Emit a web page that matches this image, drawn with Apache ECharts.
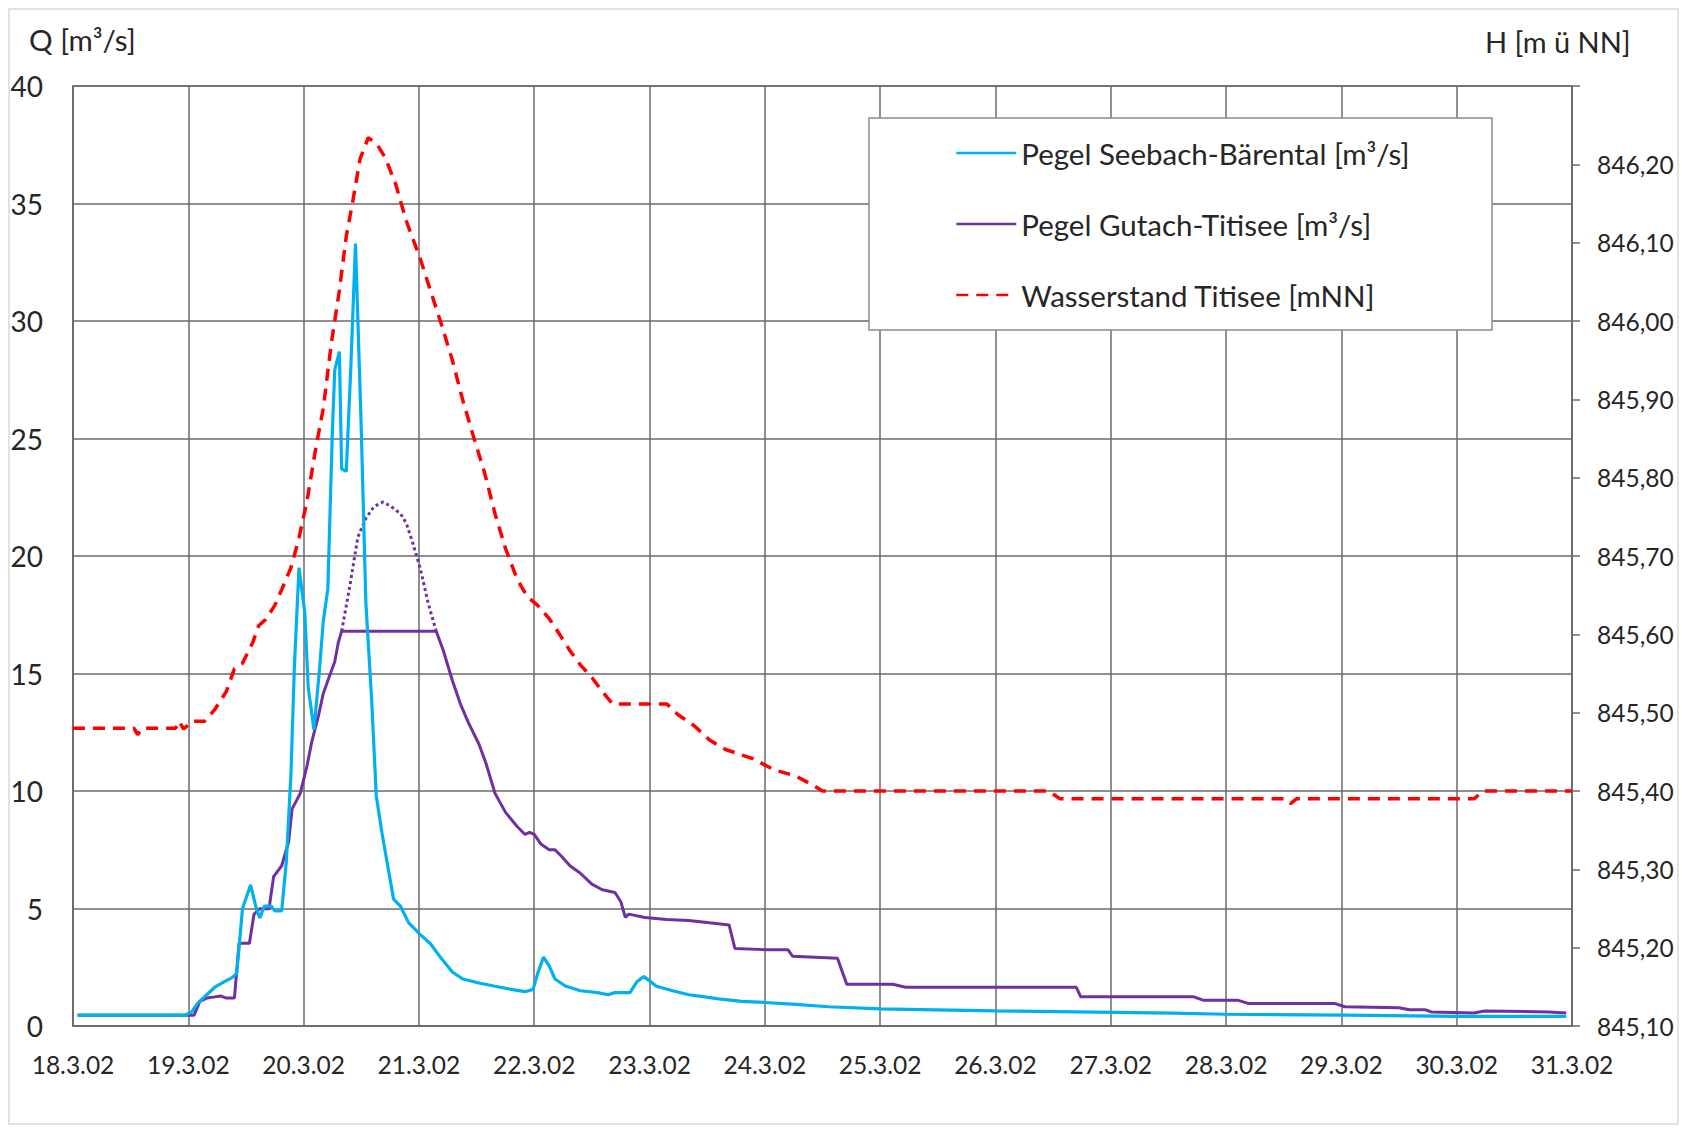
<!DOCTYPE html>
<html>
<head>
<meta charset="UTF-8" />
<title>Pegel und Wasserstand Titisee März 2002</title>
<script src="https://cdn.jsdelivr.net/npm/echarts@6/dist/echarts.min.js"></script>
<style>
  html, body { margin: 0; padding: 0; background: #fff; }
  #chart { width: 1687px; height: 1131px; }
</style>
</head>
<body>
<div id="chart"></div>
<script>
// Zeit in Tagen ab 18.3.02 00:00
const dayLabels = ['18.3.02','19.3.02','20.3.02','21.3.02','22.3.02','23.3.02','24.3.02',
  '25.3.02','26.3.02','27.3.02','28.3.02','29.3.02','30.3.02','31.3.02'];

// Pegel Seebach-Bärental [m³/s]
const seebachT = [0.04,0.97,1.03,1.08,1.16,1.23,1.31,1.38,1.42,1.47,1.54,1.59,1.62,1.66,1.72,1.75,1.81,
  1.85,1.89,1.92,1.96,2.01,2.04,2.09,2.14,2.17,2.21,2.25,2.27,2.31,2.33,2.37,2.41,2.45,2.50,2.54,2.59,
  2.63,2.68,2.73,2.78,2.84,2.91,3.01,3.10,3.19,3.29,3.38,3.52,3.66,3.80,3.92,3.99,4.03,4.08,4.13,4.18,
  4.27,4.40,4.55,4.64,4.70,4.83,4.89,4.95,5.00,5.06,5.20,5.34,5.48,5.62,5.80,6.00,6.27,6.55,7.00,7.48,
  8.00,8.70,9.54,10.00,11.03,12.00,12.95];
const seebachQ = [0.46,0.46,0.6,0.96,1.33,1.65,1.88,2.06,2.24,5.0,6.0,5.0,4.6,5.1,5.1,4.9,4.9,
  7.0,10.7,15.3,19.5,17.6,14.4,12.6,15.3,17.2,18.6,25.4,27.9,28.7,23.7,23.6,28.1,33.3,25.4,18.0,13.9,
  9.8,8.2,6.8,5.4,5.1,4.4,3.9,3.5,2.9,2.3,2.0,1.83,1.69,1.56,1.46,1.56,2.24,2.93,2.56,2.0,
  1.7,1.5,1.42,1.33,1.42,1.42,1.88,2.1,1.92,1.69,1.5,1.33,1.24,1.14,1.05,1.0,0.92,0.82,0.73,0.69,
  0.64,0.6,0.55,0.5,0.46,0.41,0.41];

// Pegel Gutach-Titisee [m³/s]
const gutachT = [0.04,1.05,1.10,1.16,1.23,1.28,1.33,1.40,1.44,1.53,1.57,1.62,1.70,1.74,1.81,1.87,1.90,
  1.97,2.03,2.07,2.13,2.17,2.22,2.27,2.30,2.33,3.15,3.21,3.29,3.36,3.43,3.52,3.58,3.66,3.75,3.85,3.92,
  3.96,4.00,4.06,4.13,4.18,4.24,4.31,4.40,4.50,4.59,4.70,4.75,4.79,4.82,4.96,5.15,5.34,5.52,5.69,5.74,
  5.99,6.20,6.24,6.63,6.71,7.11,7.22,8.70,8.74,9.72,9.80,10.10,10.19,10.94,11.03,11.50,11.59,11.73,
  11.78,12.15,12.24,12.80,12.95];
const gutachQ = [0.46,0.46,1.05,1.19,1.24,1.28,1.19,1.19,3.52,3.52,4.76,4.99,4.99,6.36,6.82,7.83,9.24,
  9.89,11.08,12.08,13.23,14.14,14.83,15.5,16.3,16.8,16.8,16.0,14.7,13.7,12.9,12.0,11.2,9.9,9.1,8.5,8.15,
  8.24,8.15,7.73,7.5,7.5,7.2,6.82,6.5,6.04,5.8,5.68,5.3,4.62,4.76,4.62,4.53,4.49,4.39,4.3,3.3,
  3.25,3.25,2.97,2.88,1.78,1.78,1.65,1.65,1.24,1.24,1.1,1.1,0.96,0.96,0.82,0.78,0.69,0.69,
  0.6,0.55,0.64,0.6,0.55];

// Gutach: geschätzter Scheitel (gepunktet)
const gutachPeakT = [2.33,2.40,2.47,2.54,2.61,2.69,2.76,2.84,2.89,2.95,3.01,3.08,3.15];
const gutachPeakQ = [16.8,18.7,20.8,21.6,22.1,22.3,22.1,21.8,21.4,20.5,19.5,18.0,16.8];

// Wasserstand Titisee [m ü NN]
const titiseeT = [0,0.53,0.56,0.60,0.89,0.92,0.96,1.03,1.14,1.23,1.33,1.40,1.47,1.56,1.61,1.67,1.75,
  1.81,1.89,1.96,2.03,2.10,2.17,2.24,2.31,2.37,2.43,2.49,2.56,2.63,2.71,2.80,2.89,3.01,3.10,3.19,3.29,
  3.38,3.47,3.57,3.66,3.75,3.85,3.94,4.03,4.13,4.22,4.31,4.40,4.50,4.59,4.68,5.15,5.25,5.39,5.52,5.66,
  5.90,6.08,6.27,6.41,6.50,8.46,8.56,10.52,10.56,10.61,12.15,12.23,13.0];
const titiseeH = [845.480,845.480,845.472,845.480,845.480,845.489,845.479,845.489,845.489,845.504,
  845.527,845.556,845.563,845.590,845.611,845.619,845.637,845.657,845.685,845.723,845.771,845.833,
  845.888,845.971,846.039,846.108,846.156,846.207,846.234,846.227,846.208,846.174,846.128,846.080,
  846.039,845.998,845.950,845.899,845.854,845.806,845.754,845.710,845.671,845.648,845.637,845.620,
  845.600,845.579,845.561,845.545,845.527,845.511,845.511,845.497,845.483,845.465,845.453,845.441,
  845.427,845.419,845.408,845.400,845.400,845.390,845.390,845.384,845.390,845.390,845.400,845.400];

const pairs = (t, v) => t.map((d, i) => [d, v[i]]);

const FONT = 'Lato';
const TXT = '#262626';
const GRID = '#6b6b6b';

const chart = echarts.init(document.getElementById('chart'), null, { renderer: 'svg' });

chart.setOption({
  backgroundColor: '#fff',
  animation: false,
  textStyle: { fontFamily: FONT, color: TXT },
  grid: { left: 73, right: 115, top: 86, bottom: 105, show: true,
    borderColor: GRID, borderWidth: 1.5, backgroundColor: 'transparent' },
  graphic: [
    { type: 'rect', shape: { x: 9, y: 9, width: 1669, height: 1115 }, z: -10,
      style: { fill: '#fff', stroke: '#d9d9d9', lineWidth: 1.5 } },
    { type: 'rect', shape: { x: 869, y: 118, width: 623, height: 212 }, z: 50,
      style: { fill: '#fff', stroke: '#8c8c8c', lineWidth: 1.5 } },
    { type: 'text', x: 29, y: 39, z: 60,
      style: { text: 'Q [m³/s]', font: '29.5px ' + FONT, fill: TXT, verticalAlign: 'middle' } },
    { type: 'text', x: 1485, y: 41, z: 60,
      style: { text: 'H [m ü NN]', font: '29px ' + FONT, fill: TXT, verticalAlign: 'middle' } }
  ],
  legend: {
    data: ['Pegel Seebach-Bärental [m³/s]', 'Pegel Gutach-Titisee [m³/s]', 'Wasserstand Titisee [mNN]'],
    orient: 'vertical', left: 955, top: 138, padding: 0, z: 60,
    itemWidth: 60, itemHeight: 28, itemGap: 41,
    itemStyle: { opacity: 0 },
    lineStyle: { width: 2.5 },
    textStyle: { fontFamily: FONT, fontSize: 29.5, color: TXT, padding: [0, 0, 0, 0] },
    selectedMode: false
  },
  xAxis: {
    type: 'value', min: 0, max: 13, interval: 1,
    axisLine: { show: true, lineStyle: { color: GRID, width: 1.5 } },
    axisTick: { show: false },
    axisLabel: { margin: 26, fontSize: 24.5, color: TXT, fontFamily: FONT,
      formatter: v => dayLabels[Math.round(v)] },
    splitLine: { show: true, lineStyle: { color: GRID, width: 1.5 } }
  },
  yAxis: [
    {
      type: 'value', min: 0, max: 40, interval: 5,
      axisLine: { show: true, lineStyle: { color: GRID, width: 1.5 } },
      axisTick: { show: false },
      axisLabel: { margin: 30, fontSize: 28, color: TXT, fontFamily: FONT },
      splitLine: { show: true, lineStyle: { color: GRID, width: 1.5 } }
    },
    {
      type: 'value', min: 845.1, max: 846.3, interval: 0.1, position: 'right',
      axisLine: { show: true, lineStyle: { color: GRID, width: 1.5 } },
      axisTick: { show: true, inside: false, length: 8, lineStyle: { color: GRID, width: 1.5 } },
      axisLabel: { margin: 25, fontSize: 24.5, color: TXT, fontFamily: FONT,
        formatter: v => v > 846.25 ? '' : v.toFixed(2).replace('.', ',') },
      splitLine: { show: false }
    }
  ],
  series: [
    {
      name: 'Pegel Seebach-Bärental [m³/s]', type: 'line', yAxisIndex: 0,
      data: pairs(seebachT, seebachQ), symbol: 'none', z: 4,
      itemStyle: { color: '#00b0f0' }, lineStyle: { color: '#00b0f0', width: 3.2 }
    },
    {
      name: 'Pegel Gutach-Titisee [m³/s]', type: 'line', yAxisIndex: 0,
      data: pairs(gutachT, gutachQ), symbol: 'none', z: 3,
      itemStyle: { color: '#7030a0' }, lineStyle: { color: '#7030a0', width: 3 }
    },
    {
      name: 'Gutach Scheitel', type: 'line', yAxisIndex: 0,
      data: pairs(gutachPeakT, gutachPeakQ), symbol: 'none', z: 3,
      itemStyle: { color: '#7030a0' }, lineStyle: { color: '#7030a0', width: 3, type: [3, 3] }
    },
    {
      name: 'Wasserstand Titisee [mNN]', type: 'line', yAxisIndex: 1,
      data: pairs(titiseeT, titiseeH), symbol: 'none', z: 5,
      itemStyle: { color: '#ff0000' }, lineStyle: { color: '#ff0000', width: 3.5, type: [12, 8] }
    }
  ]
});
</script>
</body>
</html>
